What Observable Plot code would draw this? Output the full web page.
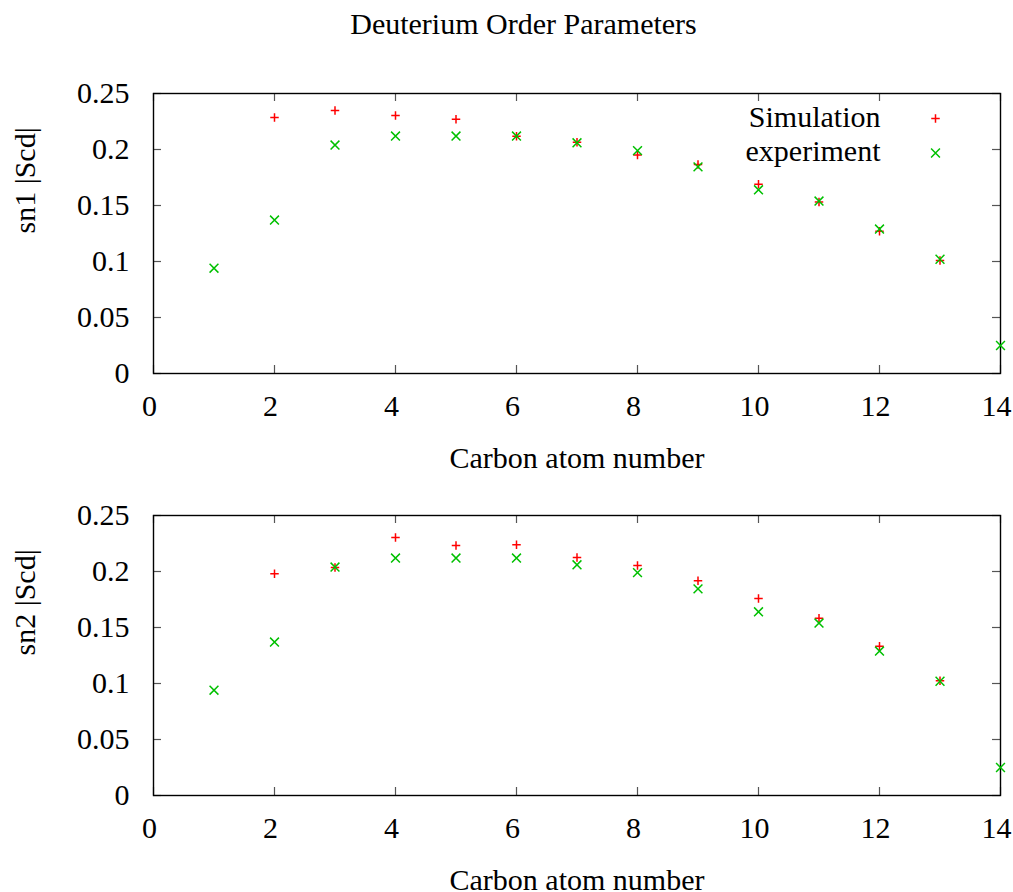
<!DOCTYPE html>
<html>
<head>
<meta charset="utf-8">
<script src="https://cdn.jsdelivr.net/npm/d3@7"></script>
<script src="https://cdn.jsdelivr.net/npm/@observablehq/plot@0.6"></script>
<style>
  body { margin: 0; background: #fff; }
  #wrap { position: relative; width: 1013px; height: 892px; font-family: "Liberation Serif", "Times New Roman", serif; }
  #title { position: absolute; left: 523.5px; top: 9px; transform: translateX(-50%); font-size: 30px; line-height: 30px; white-space: nowrap; color: #000; }
  .panel { position: absolute; left: 0; }
</style>
</head>
<body>
<div id="wrap">
  <div id="title">Deuterium Order Parameters</div>
</div>
<script>
// ---- data ----
const carbon = [1, 2, 3, 4, 5, 6, 7, 8, 9, 10, 11, 12, 13, 14];
const sn1Simulation = [null, 0.2286, 0.2348, 0.2304, 0.2271, 0.2119, 0.2065, 0.195, 0.1866, 0.169, 0.1532, 0.127, 0.101, null];
const sn2Simulation = [null, 0.198, 0.2036, 0.2304, 0.2232, 0.2238, 0.2125, 0.2054, 0.1917, 0.1759, 0.1583, 0.1333, 0.1024, null];
const experiment = [0.094, 0.137, 0.204, 0.212, 0.212, 0.212, 0.206, 0.199, 0.1845, 0.164, 0.154, 0.129, 0.102, 0.025];
const seriesNames = ["Simulation", "experiment"];
const xTicks = [0, 2, 4, 6, 8, 10, 12, 14];
const yTicks = [0, 0.05, 0.1, 0.15, 0.2, 0.25];
const xLabel = "Carbon atom number";

const RED = "#ff0000", GREEN = "#00c000";
const PLUS_R = 2.85, TIMES_R = 4.1, SW = 1.5;
const fmt = d3.format("~g");

function panel(sim, ylabel, legend, mTop, mBottom, height) {
  const simData = carbon.map((c, i) => ({x: c, y: sim[i]})).filter(d => d.y != null);
  const expData = carbon.map((c, i) => ({x: c, y: experiment[i]})).filter(d => d.y != null);
  const frameH = height - mTop - mBottom;
  const frameW = 1013 - 153 - 13;
  const tick = 8;
  const marks = [
    Plot.tickX(xTicks, {x: d => d, insetTop: frameH - tick, stroke: "#555", strokeWidth: 1.2}),
    Plot.tickX(xTicks, {x: d => d, insetBottom: frameH - tick, stroke: "#555", strokeWidth: 1.2}),
    Plot.tickY(yTicks, {y: d => d, insetRight: frameW - tick, stroke: "#555", strokeWidth: 1.2}),
    Plot.tickY(yTicks, {y: d => d, insetLeft: frameW - tick, stroke: "#555", strokeWidth: 1.2}),
    Plot.frame({stroke: "#000", strokeWidth: 1.4}),
    Plot.axisX({ticks: xTicks, anchor: "bottom", tickSize: 0, tickPadding: 21, dx: -4, tickFormat: fmt, label: null}),
    Plot.axisY({ticks: yTicks, anchor: "left", tickSize: 0, tickPadding: 24, tickFormat: fmt, label: null}),
    Plot.text([xLabel], {text: d => d, frameAnchor: "bottom", lineAnchor: "middle", dy: 85}),
    Plot.text([ylabel], {text: d => d, frameAnchor: "left", lineAnchor: "middle", dx: -128, rotate: -90}),
    Plot.dot(simData, {x: "x", y: "y", symbol: "plus", r: PLUS_R, stroke: RED, strokeWidth: SW}),
    Plot.dot(expData, {x: "x", y: "y", symbol: "times", r: TIMES_R, stroke: GREEN, strokeWidth: SW})
  ];
  if (legend) {
    marks.push(
      Plot.text([seriesNames[0]], {text: d => d, frameAnchor: "top-right", lineAnchor: "middle", textAnchor: "end", dx: -120, dy: 24}),
      Plot.dot([seriesNames[0]], {frameAnchor: "top-right", dx: -65, dy: 25, symbol: "plus", r: PLUS_R, stroke: RED, strokeWidth: SW}),
      Plot.text([seriesNames[1]], {text: d => d, frameAnchor: "top-right", lineAnchor: "middle", textAnchor: "end", dx: -120, dy: 57.5}),
      Plot.dot([seriesNames[1]], {frameAnchor: "top-right", dx: -65, dy: 59.5, symbol: "times", r: TIMES_R, stroke: GREEN, strokeWidth: SW})
    );
  }
  return Plot.plot({
    width: 1013,
    height,
    marginTop: mTop,
    marginBottom: mBottom,
    marginLeft: 153,
    marginRight: 13,
    style: {fontFamily: "'Liberation Serif', 'Times New Roman', serif", fontSize: "30px", color: "#000", background: "transparent", overflow: "visible"},
    x: {domain: [0, 14]},
    y: {domain: [0, 0.25]},
    marks
  });
}

const wrap = document.getElementById("wrap");
const p1 = panel(sn1Simulation, "sn1 |Scd|", true, 93, 73, 446);
p1.classList.add("panel"); p1.style.top = "0px";
const p2 = panel(sn2Simulation, "sn2 |Scd|", false, 69, 97, 446);
p2.classList.add("panel"); p2.style.top = "446px";
wrap.appendChild(p1);
wrap.appendChild(p2);
</script>
</body>
</html>
